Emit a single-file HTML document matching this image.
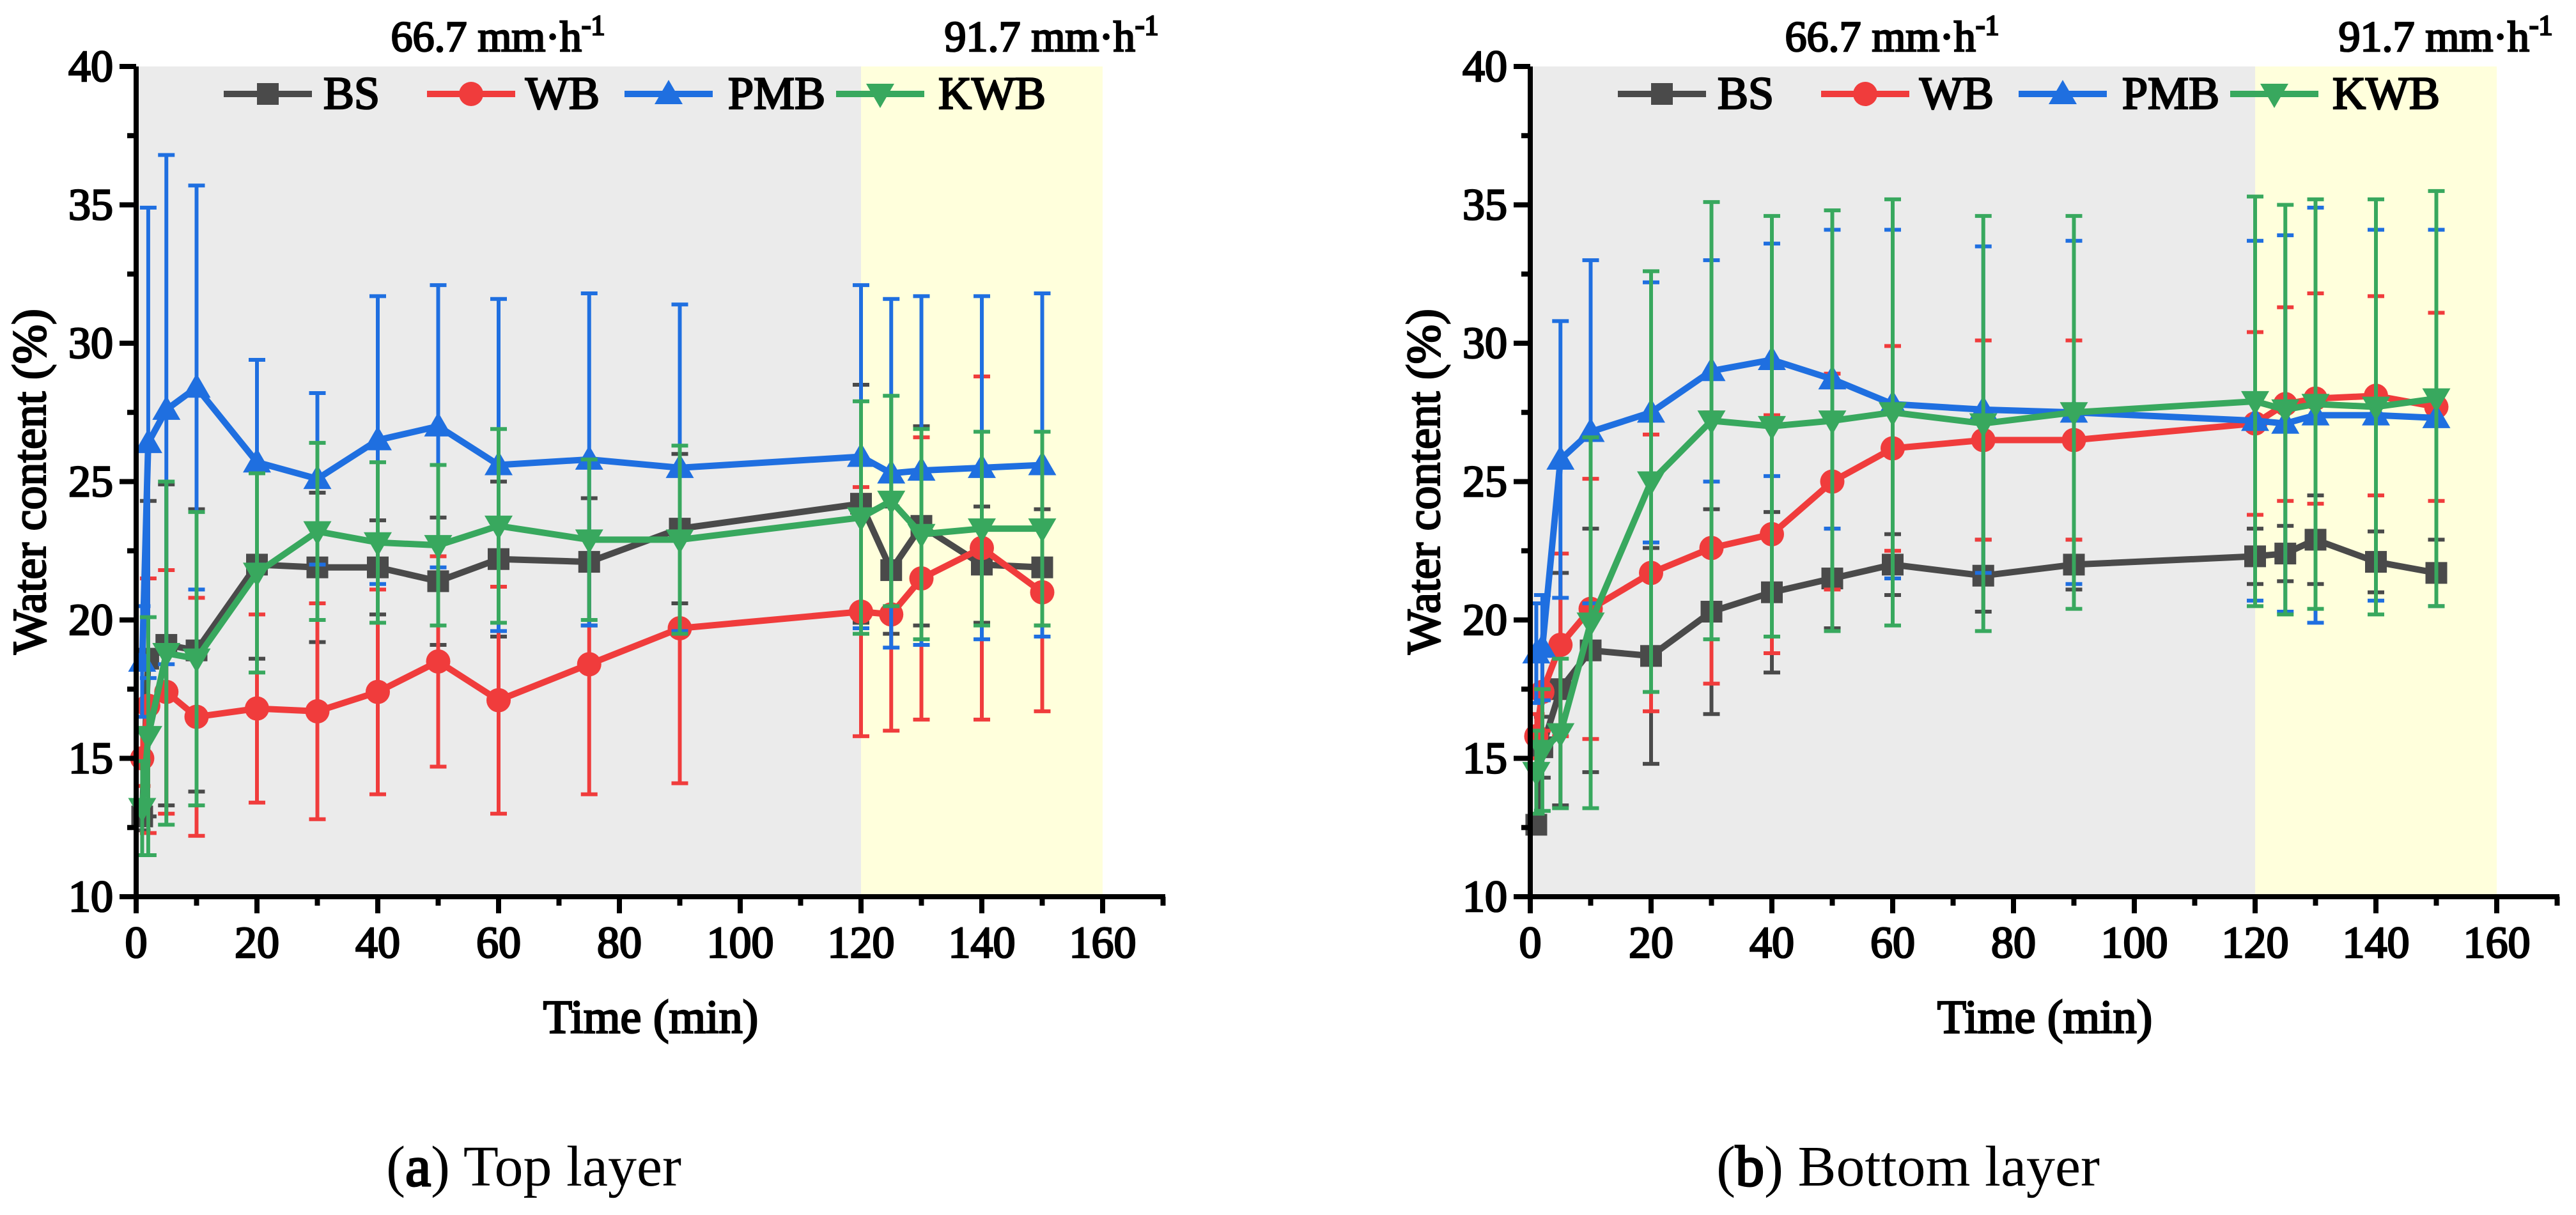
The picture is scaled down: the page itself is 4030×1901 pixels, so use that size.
<!DOCTYPE html>
<html><head><meta charset="utf-8"><style>
html,body{margin:0;padding:0;background:#fff;}
svg, svg text, svg tspan{font-family:"Liberation Serif","Times New Roman",serif !important;}
</style></head><body>
<svg id="fig" width="4030" height="1896" viewBox="0 0 4030 1896" xmlns="http://www.w3.org/2000/svg">
<text x="835" y="1855" font-size="90" text-anchor="middle">(<tspan stroke="#000" stroke-width="3">a</tspan>) Top layer</text>
<text x="2985" y="1855" font-size="90" text-anchor="middle">(<tspan stroke="#000" stroke-width="3">b</tspan>) Bottom layer</text>
</svg>
<script>
const times = [1,2,5,10,20,30,40,50,60,75,90,120,125,130,140,150];
const seriesNames = ['BS','WB','PMB','KWB'];
const topBS  = [12.9,18.6,19.1,18.9,22.0,21.9,21.9,21.4,22.2,22.1,23.3,24.2,21.8,23.4,22.0,21.9];
const topBSe = [0.5,5.7,5.8,5.1,3.4,2.7,1.7,2.3,2.8,2.3,2.7,4.3,2.3,3.6,2.1,2.1];
const topWB  = [15.0,16.9,17.4,16.5,16.8,16.7,17.4,18.5,17.1,18.4,19.7,20.3,20.2,21.5,22.6,21.0];
const topWBe = [1.0,4.6,4.4,4.3,3.4,3.9,3.7,3.8,4.1,4.7,5.6,4.5,4.2,5.1,6.2,4.3];
const topPMB = [18.5,26.4,27.6,28.4,25.7,25.1,26.5,27.0,25.6,25.8,25.5,25.9,25.3,25.4,25.5,25.6];
const topPMBe= [2.0,8.5,9.2,7.3,3.7,3.1,5.2,5.1,6.0,6.0,5.9,6.2,6.3,6.3,6.2,6.2];
const topKWB = [13.2,15.8,18.8,18.6,21.7,23.2,22.8,22.7,23.4,22.9,22.9,23.7,24.3,23.1,23.3,23.3];
const topKWBe= [1.7,4.3,6.2,5.3,3.6,3.2,2.9,2.9,3.5,2.9,3.4,4.2,3.8,3.8,3.5,3.5];
const botBS  = [12.6,15.4,17.5,18.9,18.7,20.3,21.0,21.5,22.0,21.6,22.0,22.3,22.4,22.9,22.1,21.7];
const botBSe = [0.3,1.1,4.2,4.4,3.9,3.7,2.9,1.8,1.1,1.3,0.9,1.0,1.0,1.6,1.1,1.2];
const botWB  = [15.8,17.4,19.1,20.4,21.7,22.6,23.1,25.0,26.2,26.5,26.5,27.1,27.8,28.0,28.1,27.7];
const botWBe = [0.8,1.4,3.3,4.7,5.0,4.9,4.3,3.9,3.7,3.6,3.6,3.3,3.5,3.8,3.6,3.4];
const botPMB = [18.8,19.0,25.8,26.8,27.5,29.0,29.4,28.7,27.8,27.6,27.5,27.2,27.1,27.4,27.4,27.3];
const botPMBe= [1.8,1.9,5.0,6.2,4.7,4.0,4.2,5.4,6.3,5.9,6.2,6.5,6.8,7.5,6.7,6.8];
const botKWB = [14.5,15.3,15.9,19.9,25.0,27.2,27.0,27.2,27.5,27.1,27.5,27.9,27.6,27.8,27.7,28.0];
const botKWBe= [1.5,2.2,2.7,6.7,7.6,7.9,7.6,7.6,7.7,7.5,7.1,7.4,7.4,7.4,7.5,7.5];
const xTicks = [0,20,40,60,80,100,120,140,160];
const yTicks = [10,15,20,25,30,35,40];

const NS='http://www.w3.org/2000/svg';
const svg=document.getElementById('fig');
const colors={BS:'#4a4a4a',WB:'#f03c3c',PMB:'#1f6fe0',KWB:'#38a85e'};
function mk(tag,attrs,parent){const e=document.createElementNS(NS,tag);for(const k in attrs)e.setAttribute(k,attrs[k]);if(tag==='text'){e.setAttribute('stroke','#000');e.setAttribute('stroke-width','2.6');e.setAttribute('fill','#000');}(parent||svg).appendChild(e);return e;}

function marker(g,name,cx,cy,c){
  let m;
  if(name==='BS') m=mk('rect',{x:cx-17,y:cy-17,width:34,height:34,fill:c},g);
  else if(name==='WB') m=mk('circle',{cx:cx,cy:cy,r:19,fill:c},g);
  else if(name==='PMB') m=mk('polygon',{points:`${cx},${cy-22} ${cx+22},${cy+16} ${cx-22},${cy+16}`,fill:c},g);
  else m=mk('polygon',{points:`${cx},${cy+22} ${cx+22},${cy-16} ${cx-22},${cy-16}`,fill:c},g);
  return m;
}

function chart(ox,prefix,data){
  const x0=ox, x1=ox+1512, yTop=104, yBot=1403;
  const X=t=>x0+(t/160)*(x1-x0);
  const Y=v=>yBot-(v-10)/30*(yBot-yTop);
  const g=mk('g',{});
  
  
  const bg1=mk('rect',{x:X(0),y:yTop,width:X(120)-X(0),height:yBot-yTop,fill:'#ebebeb'},g);
  
  
  const bg2=mk('rect',{x:X(120),y:yTop,width:X(160)-X(120),height:yBot-yTop,fill:'#ffffdc'},g);
  
  
  const h1=mk('text',{x:ox+566,y:80,'font-size':68,'text-anchor':'middle'},g);
  h1.innerHTML='66.7 mm·h<tspan dy="-26" font-size="44">-1</tspan>';
  
  
  const h2=mk('text',{x:ox+1432,y:80,'font-size':68,'text-anchor':'middle'},g);
  h2.innerHTML='91.7 mm·h<tspan dy="-26" font-size="44">-1</tspan>';
  
  
  seriesNames.forEach((nm,si)=>{
    const vals=data[nm][0], errs=data[nm][1], c=colors[nm];
    const sg=mk('g',{},g);
    
    
    times.forEach((t,i)=>{
      const x=X(t), hi=Y(vals[i]+errs[i]), lo=Y(vals[i]-errs[i]);
      const eb=mk('path',{d:`M${x},${hi}V${lo}M${x-13},${hi}H${x+13}M${x-13},${lo}H${x+13}`,stroke:c,'stroke-width':6,fill:'none'},sg);
      
      
    });
    const pl=mk('polyline',{points:times.map((t,i)=>X(t)+','+Y(vals[i])).join(' '),stroke:c,'stroke-width':10,fill:'none','stroke-linejoin':'round'},sg);
    
    
    times.forEach((t,i)=>{
      const m=marker(sg,nm,X(t),Y(vals[i]),c);
      
      
    });
  });
  const lx=[350,668,977,1308], tx=[506,822,1139,1468];
  seriesNames.forEach((nm,i)=>{
    const lg=mk('g',{},g);
    
    
    const a=ox-213+lx[i];
    mk('line',{x1:a,y1:147,x2:a+138,y2:147,stroke:colors[nm],'stroke-width':10},lg);
    marker(lg,nm,a+69,147,colors[nm]);
    const t=mk('text',{x:ox-213+tx[i],y:170,'font-size':72},lg);
    t.textContent=nm;
  });
  const ax=mk('g',{stroke:'#000','stroke-width':8,fill:'none'},g);
  
  
  mk('path',{d:`M${x0},${yTop}V${yBot+26}M${x0-26},${yBot}H${x0+1610}`},ax);
  mk('path',{d:`M${x0-26},${yTop}H${x0}`},ax);
  xTicks.forEach(v=>{
    mk('line',{x1:X(v),y1:yBot,x2:X(v),y2:yBot+26},ax);
    mk('line',{x1:X(v+10),y1:yBot,x2:X(v+10),y2:yBot+14},ax);
    const t=mk('text',{x:X(v),y:1498,'font-size':70,'text-anchor':'middle'},g);
    t.textContent=v;
    
    
  });
  yTicks.forEach(v=>{
    mk('line',{x1:x0-26,y1:Y(v),x2:x0,y2:Y(v)},ax);
    if(v<40) mk('line',{x1:x0-14,y1:Y(v+2.5),x2:x0,y2:Y(v+2.5)},ax);
    const t=mk('text',{x:x0-36,y:Y(v)+23,'font-size':70,'text-anchor':'end'},g);
    t.textContent=v;
    
    
  });
  const xl=mk('text',{x:(x0+x0+1610)/2,y:1616,'font-size':74,'text-anchor':'middle'},g);
  xl.textContent='Time (min)';
  
  
  const yl=mk('text',{x:0,y:0,'font-size':74,'text-anchor':'middle',transform:`translate(${x0-142},${(yTop+yBot)/2}) rotate(-90)`},g);
  yl.textContent='Water content (%)';
  
  
}
chart(213,'top-layer',{BS:[topBS,topBSe],WB:[topWB,topWBe],PMB:[topPMB,topPMBe],KWB:[topKWB,topKWBe]});
chart(2394,'bottom-layer',{BS:[botBS,botBSe],WB:[botWB,botWBe],PMB:[botPMB,botPMBe],KWB:[botKWB,botKWBe]});
</script>
</body></html>
